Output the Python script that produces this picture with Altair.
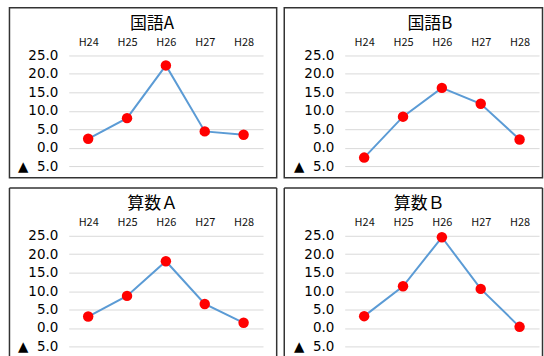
import altair as alt
import pandas as pd

# ---- data ----
years = ["H24", "H25", "H26", "H27", "H28"]
subjects = ["国語A", "国語B", "算数Ａ", "算数Ｂ"]
kokugo_a = [2.4, 8.0, 22.3, 4.4, 3.5]
kokugo_b = [-2.7, 8.4, 16.2, 11.9, 2.2]
sansu_a = [3.1, 8.7, 18.1, 6.5, 1.4]
sansu_b = [3.2, 11.3, 24.6, 10.6, 0.3]
series = [kokugo_a, kokugo_b, sansu_a, sansu_b]
y_ticks = [-5, 0, 5, 10, 15, 20, 25]

# ---- style / layout ----
W, H = 195, 111
BORDER = "#333333"
BW = 1.5
CJK = "Noto Sans CJK JP"
one = pd.DataFrame({"k": [0]})

# border boxes relative to the plot origin: (x1, y1, x2, y2)
boxes = [(-59.5, -48, 208.7, 122.7), (-60.7, -48, 198.5, 122.7),
         (-59.5, -48, 208.7, 121), (-60.7, -48, 198.5, 121)]
title_pos = [(83.5, -32), (85.5, -32), (84.2, -32), (74.7, -32)]

label_expr = ("datum.value < 0 ? '\u25b2\u00a0\u00a0' + format(-datum.value, '.1f')"
              " : format(datum.value, '.1f')")


def panel(i):
    df = pd.DataFrame({"year": years, "value": series[i]})
    base = alt.Chart(df).encode(
        x=alt.X("year:N", sort=years,
                scale=alt.Scale(type="point", padding=0.5),
                axis=alt.Axis(orient="top", title=None, domain=False, ticks=False,
                              tickSize=0, labelAngle=0, labelFont=CJK,
                              labelFontSize=11, labelColor="#111111",
                              labelPadding=8, grid=False)),
        y=alt.Y("value:Q",
                scale=alt.Scale(domain=[-5, 25], nice=False, zero=False),
                axis=alt.Axis(values=y_ticks, title=None, domain=False, ticks=False,
                              tickSize=0, labelExpr=label_expr,
                              labelFont="DejaVu Sans", labelFontSize=13.5,
                              labelColor="#000000", labelPadding=11,
                              gridColor="#D9D9D9", gridWidth=1)),
    )
    line = base.mark_line(color="#5B9BD5", strokeWidth=2)
    pts = base.mark_circle(color="#FF0000", opacity=1, size=110)

    tx, ty = title_pos[i]
    title = alt.Chart(one).mark_text(
        text=subjects[i], font=CJK, fontSize=17, color="#000000",
        align="center", baseline="middle"
    ).encode(x=alt.value(tx), y=alt.value(ty))

    x1, y1, x2, y2 = boxes[i]
    if i < 2:
        frame = [alt.Chart(one).mark_rect(
            fill="white", fillOpacity=0, stroke=BORDER, strokeWidth=BW
        ).encode(x=alt.value(x1), x2=alt.value(x2), y=alt.value(y1), y2=alt.value(y2))]
    else:
        rule = dict(color=BORDER, strokeWidth=BW)
        frame = [
            alt.Chart(one).mark_rule(**rule).encode(
                x=alt.value(x1), y=alt.value(y1), y2=alt.value(y2)),
            alt.Chart(one).mark_rule(**rule).encode(
                x=alt.value(x2), y=alt.value(y1), y2=alt.value(y2)),
            alt.Chart(one).mark_rule(**rule).encode(
                y=alt.value(y1), x=alt.value(x1), x2=alt.value(x2)),
        ]
    return alt.layer(*frame, line, pts, title).properties(width=W, height=H)


top = alt.hconcat(panel(0), panel(1), spacing=5)
bottom = alt.hconcat(panel(2), panel(3), spacing=5)
chart = alt.vconcat(top, bottom, spacing=7).properties(
    padding={"left": 8, "top": 5, "right": 0, "bottom": 0},
    background="white",
).configure_view(stroke="transparent")

chart.save("out.html", embed_options={"renderer": "svg", "actions": False})
